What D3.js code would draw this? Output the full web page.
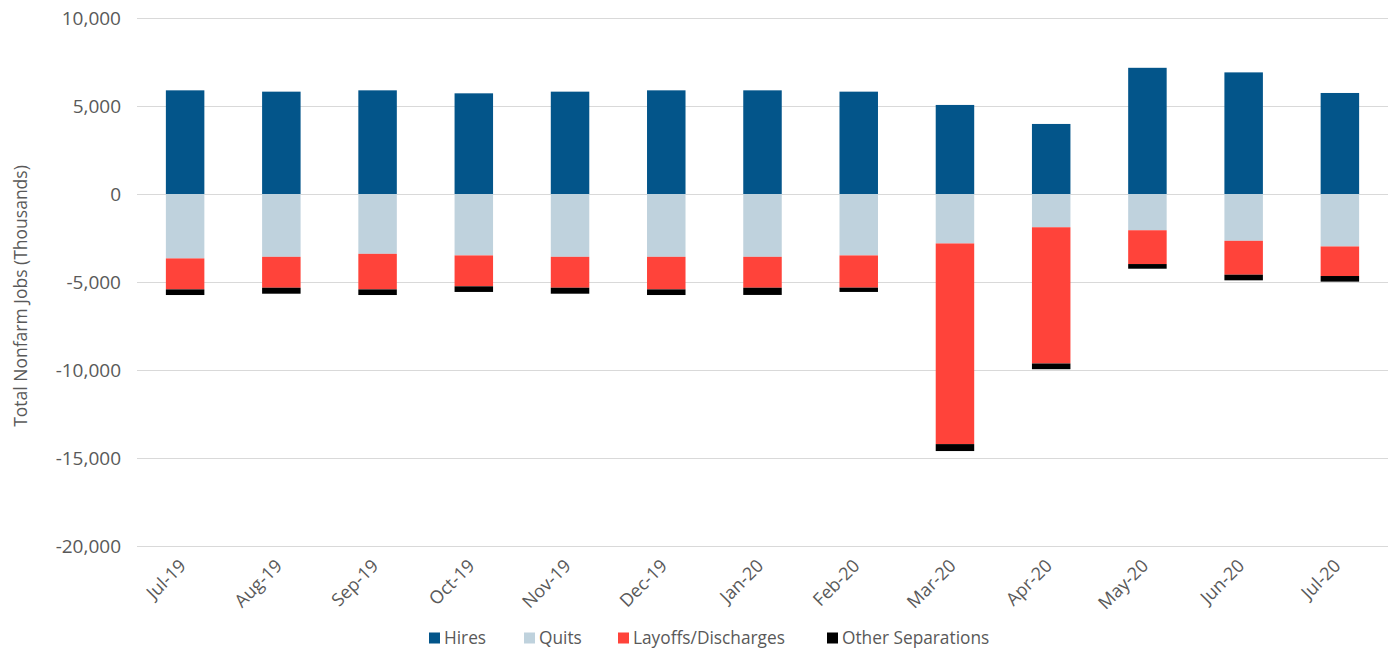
<!DOCTYPE html>
<html>
<head>
<meta charset="utf-8">
<script src="https://cdn.jsdelivr.net/npm/d3@7"></script>
<style>
  body { margin: 0; background: #fff; }
  text { font-family: "Open Sans", "Noto Sans", sans-serif; fill: #595959; }
</style>
</head>
<body>
<div class="container"></div>
<script>
// JOLTS flows, thousands
let months = ['Jul-19','Aug-19','Sep-19','Oct-19','Nov-19','Dec-19','Jan-20','Feb-20','Mar-20','Apr-20','May-20','Jun-20','Jul-20'];
let hires   = [5890, 5815, 5890, 5720, 5815, 5890, 5890, 5815, 5060, 3980, 7170, 6910, 5740];
let quits   = [3660, 3570, 3400, 3490, 3570, 3570, 3570, 3490, 2810, 1890, 2060, 2660, 2980];
let layoffs = [1760, 1755, 2020, 1755, 1755, 1850, 1755, 1830, 11400, 7740, 1920, 1925, 1680];
let other   = [320, 340, 320, 320, 340, 320, 410, 245, 395, 325, 265, 320, 320];
let yTicks  = [10000, 5000, 0, -5000, -10000, -15000, -20000];

let seriesNames = ['Hires', 'Quits', 'Layoffs/Discharges', 'Other Separations'];
let colors = ['#03558a', '#bfd2dd', '#ff433a', '#000000'];

let width = 1390, height = 652,
    margin = { top: 18, right: 2, bottom: 106, left: 137 };

let svg = d3.select('.container')
  .append('svg')
  .attr('width', width)
  .attr('height', height);

let xScale = d3.scaleBand()
  .domain(months)
  .range([margin.left, width - margin.right])
  .paddingInner(0.6)
  .paddingOuter(0.3);

let yScale = d3.scaleLinear()
  .domain([-20000, 10000])
  .range([height - margin.bottom, margin.top]);

// gridlines
svg.append('g')
  .selectAll('line')
  .data(yTicks)
  .enter()
  .append('line')
  .attr('x1', margin.left)
  .attr('x2', width - margin.right)
  .attr('y1', d => Math.round(yScale(d)) + 0.5)
  .attr('y2', d => Math.round(yScale(d)) + 0.5)
  .attr('stroke', '#d9d9d9')
  .attr('stroke-width', 1.2);

// y tick labels
svg.append('g')
  .selectAll('text')
  .data(yTicks)
  .enter()
  .append('text')
  .attr('x', 121)
  .attr('y', d => yScale(d))
  .attr('dy', '0.36em')
  .style('text-anchor', 'end')
  .style('font-size', '19px')
  .text(d => d3.format(',')(d).replace('−', '-'));

// stacks: hires up from zero, the rest down from zero
let rows = months.map((m, i) => {
  let q1 = -quits[i];
  let l1 = q1 - layoffs[i];
  let o1 = l1 - other[i];
  return [
    { m, s: 0, y0: 0, y1: hires[i] },
    { m, s: 1, y0: 0, y1: q1 },
    { m, s: 2, y0: q1, y1: l1 },
    { m, s: 3, y0: l1, y1: o1 }
  ];
}).flat();

svg.append('g')
  .selectAll('rect')
  .data(rows)
  .enter()
  .append('rect')
  .attr('x', d => xScale(d.m))
  .attr('width', xScale.bandwidth())
  .attr('y', d => yScale(Math.max(d.y0, d.y1)))
  .attr('height', d => Math.abs(yScale(d.y0) - yScale(d.y1)))
  .attr('fill', d => colors[d.s]);

// x labels
svg.append('g')
  .selectAll('text')
  .data(months)
  .enter()
  .append('text')
  .attr('transform', d => `translate(${xScale(d) + xScale.bandwidth() / 2 + 2}, 567) rotate(-45)`)
  .style('text-anchor', 'end')
  .style('font-size', '18px')
  .text(d => d);

// y axis title
svg.append('text')
  .attr('transform', 'translate(27, 296) rotate(-90)')
  .style('text-anchor', 'middle')
  .style('font-size', '17.5px')
  .text('Total Nonfarm Jobs (Thousands)');

// legend
let legendX = [429, 524, 618, 827];
let legend = svg.append('g')
  .selectAll('g')
  .data(seriesNames)
  .enter()
  .append('g')
  .attr('transform', (d, i) => `translate(${legendX[i]}, 638)`);

legend.append('rect')
  .attr('x', 0)
  .attr('y', -5.5)
  .attr('width', 11)
  .attr('height', 11)
  .attr('fill', (d, i) => colors[i]);

legend.append('text')
  .attr('x', 15)
  .attr('y', 0)
  .attr('dy', '0.36em')
  .style('font-size', '17.3px')
  .text(d => d);
</script>
</body>
</html>
